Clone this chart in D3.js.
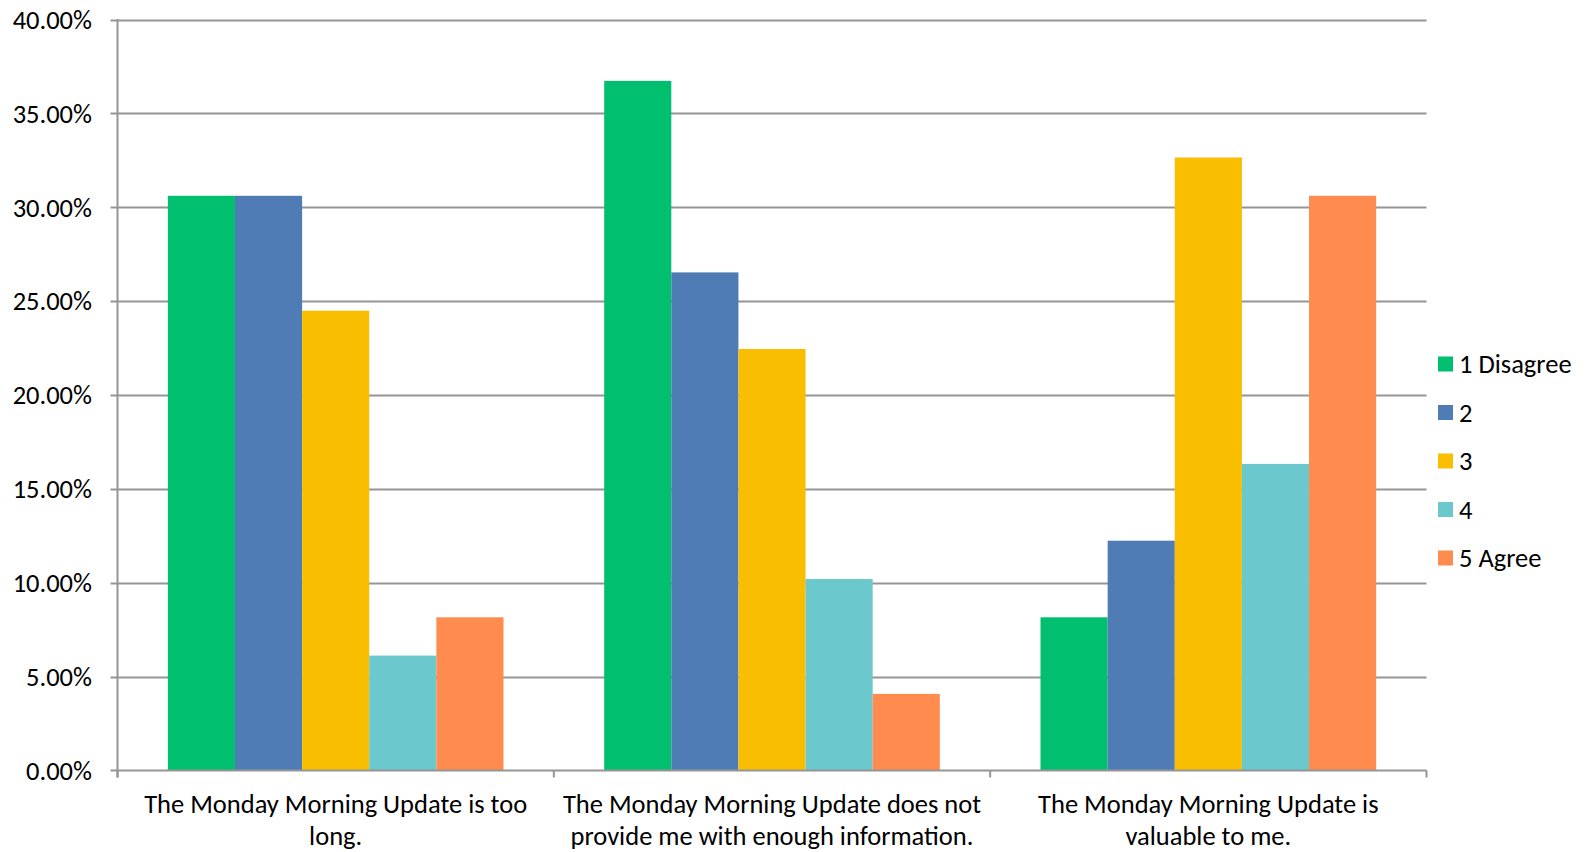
<!DOCTYPE html>
<html><head><meta charset="utf-8">
<script src="https://cdn.jsdelivr.net/npm/d3@7"></script>
<style>html,body{margin:0;padding:0;background:#fff;}svg{display:block;font-family:Carlito,Calibri,Lato,sans-serif;}</style>
</head><body>
<svg id="chart" width="1590" height="852"></svg>
<script>
const categories = [
  ["The Monday Morning Update is too", "long."],
  ["The Monday Morning Update does not", "provide me with enough information."],
  ["The Monday Morning Update is", "valuable to me."]
];
const seriesNames = ["1 Disagree", "2", "3", "4", "5 Agree"];
const seriesColors = ["#00BF6F", "#507CB6", "#F9BE00", "#6BC8CD", "#FF8B4F"];
const values = [
  [30.61, 30.61, 24.49, 6.12, 8.16],
  [36.73, 26.53, 22.45, 10.20, 4.08],
  [8.16, 12.24, 32.65, 16.33, 30.61]
];
const yTicks = [0, 5, 10, 15, 20, 25, 30, 35, 40];

const svg = d3.select("#chart");
const m = {left: 117.5, right: 1426.5, top: 19.5, bottom: 770.5};
const y = d3.scaleLinear().domain([0, 40]).range([m.bottom, m.top]);
const x0 = d3.scaleBand().domain(d3.range(categories.length)).range([m.left, m.right]).paddingInner(0).paddingOuter(0);
// gap width 150%: 5 bars + 1.5 bar gap per group
const x1 = d3.scaleBand().domain(d3.range(seriesNames.length)).range([0, x0.bandwidth()]).paddingInner(0).paddingOuter(0.75);
const gridColor = "#959595";
const fontSize = 26.5;

// gridlines
svg.append("g").selectAll("line").data(yTicks.filter(d => d > 0)).join("line")
  .attr("x1", m.left - 7).attr("x2", m.right)
  .attr("y1", d => Math.round(y(d)) + 0.5).attr("y2", d => Math.round(y(d)) + 0.5)
  .attr("stroke", gridColor).attr("stroke-width", 2);

// bars
const g = svg.append("g");
values.forEach((row, ci) => {
  g.append("g").selectAll("rect").data(row).join("rect")
    .attr("x", (d, si) => x0(ci) + x1(si))
    .attr("width", x1.bandwidth())
    .attr("y", d => y(d))
    .attr("height", d => y(0) - y(d))
    .attr("fill", (d, si) => seriesColors[si]);
});

// y axis line and ticks
svg.append("line").attr("x1", m.left).attr("x2", m.left).attr("y1", m.top - 0.5).attr("y2", m.bottom + 7)
  .attr("stroke", gridColor).attr("stroke-width", 2);
svg.append("line").attr("x1", m.left - 7).attr("x2", m.right).attr("y1", m.bottom).attr("y2", m.bottom)
  .attr("stroke", gridColor).attr("stroke-width", 2);
// category ticks
svg.append("g").selectAll("line").data(d3.range(categories.length + 1)).join("line")
  .attr("x1", d => d < categories.length ? x0(d) : m.right)
  .attr("x2", d => d < categories.length ? x0(d) : m.right)
  .attr("y1", m.bottom).attr("y2", m.bottom + 7)
  .attr("stroke", gridColor).attr("stroke-width", 2);

// y labels
svg.append("g").selectAll("text").data(yTicks).join("text")
  .attr("x", 92).attr("y", d => y(d)).attr("dy", "0.35em")
  .attr("text-anchor", "end").attr("font-size", fontSize).attr("fill", "#000")
  .text(d => d.toFixed(2) + "%");

// category labels
categories.forEach((lines, ci) => {
  const t = svg.append("text").attr("text-anchor", "middle").attr("font-size", fontSize).attr("fill", "#000");
  lines.forEach((ln, li) => {
    t.append("tspan").attr("x", x0(ci) + x0.bandwidth() / 2).attr("y", 803.5 + li * 32.5).attr("dy", "0.35em").text(ln);
  });
});

// legend
const lg = svg.append("g");
seriesNames.forEach((nm, i) => {
  const cy = 364 + i * 48.5;
  lg.append("rect").attr("x", 1438).attr("y", cy - 7.5).attr("width", 15).attr("height", 15).attr("fill", seriesColors[i]);
  lg.append("text").attr("x", 1459).attr("y", cy).attr("dy", "0.35em").attr("font-size", fontSize).attr("fill", "#000").text(nm);
});
</script>
</body></html>
